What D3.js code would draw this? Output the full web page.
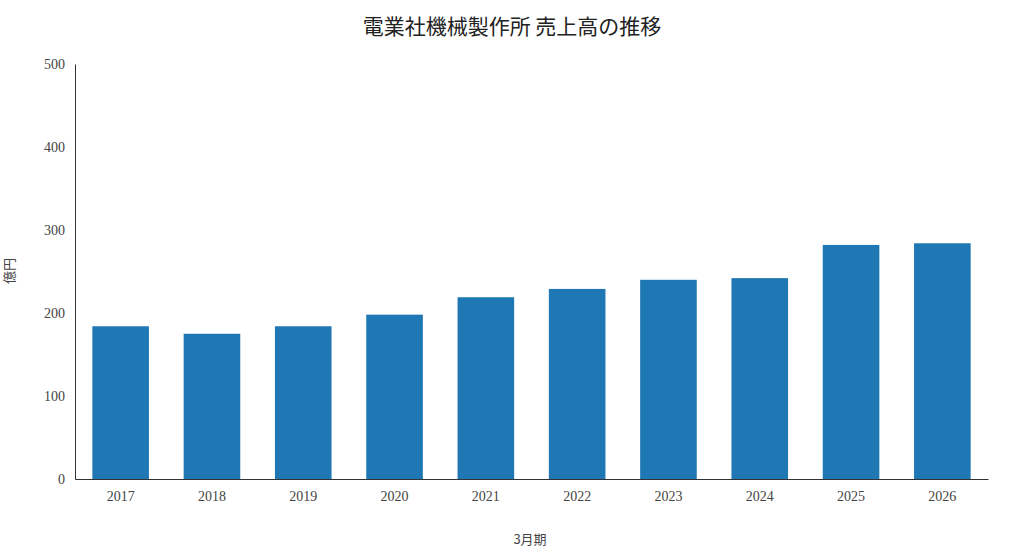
<!DOCTYPE html>
<html><head><meta charset="utf-8">
<script src="https://cdn.jsdelivr.net/npm/d3@7"></script>
<style>body{margin:0;background:#fff}</style></head>
<body><svg id="c" width="1024" height="559"></svg>
<script>
const years = ["2017","2018","2019","2020","2021","2022","2023","2024","2025","2026"];
const sales = [184, 175, 184, 198, 219, 229, 240, 242, 282, 284];
const yTicks = [0, 100, 200, 300, 400, 500];

const svg = d3.select("#c");
const m = {left: 75, right: 988, top: 64, bottom: 479};
const x = d3.scaleBand().domain(years).range([m.left, m.right]).paddingInner(0.38).paddingOuter(0.19);
const y = d3.scaleLinear().domain([0, 500]).range([m.bottom, m.top]);

svg.selectAll("rect.bar").data(sales).join("rect")
  .attr("x", (d, i) => x(years[i])).attr("width", x.bandwidth())
  .attr("y", d => y(d)).attr("height", d => y(0) - y(d))
  .attr("fill", "#1f77b4");

const tickFont = "'Liberation Serif', serif";
const xa = svg.append("g").attr("transform", `translate(0,${m.bottom})`)
  .call(d3.axisBottom(x).tickSize(0).tickPadding(12));
xa.select(".domain").attr("stroke", "#333");
xa.selectAll("text").attr("font-family", tickFont).attr("font-size", 14).attr("fill", "#444");

const ya = svg.append("g").attr("transform", `translate(${m.left},0)`)
  .call(d3.axisLeft(y).tickValues(yTicks).tickSize(0).tickPadding(10));
ya.select(".domain").attr("stroke", "#333");
ya.selectAll("text").attr("font-family", tickFont).attr("font-size", 14).attr("fill", "#444");

svg.append("text").attr("x", 512).attr("y", 34).attr("text-anchor", "middle")
  .attr("font-family", "'Noto Sans CJK JP'").attr("font-size", 21).attr("fill", "#222")
  .text("電業社機械製作所 売上高の推移");
svg.append("text").attr("x", 530).attr("y", 544).attr("text-anchor", "middle")
  .attr("font-family", "'Noto Sans CJK JP'").attr("font-size", 13).attr("fill", "#444").text("3月期");
svg.append("text").attr("transform", "translate(14,271) rotate(-90)").attr("text-anchor", "middle")
  .attr("font-family", "'Noto Sans CJK JP'").attr("font-size", 13).attr("fill", "#444").text("億円");
</script></body></html>
